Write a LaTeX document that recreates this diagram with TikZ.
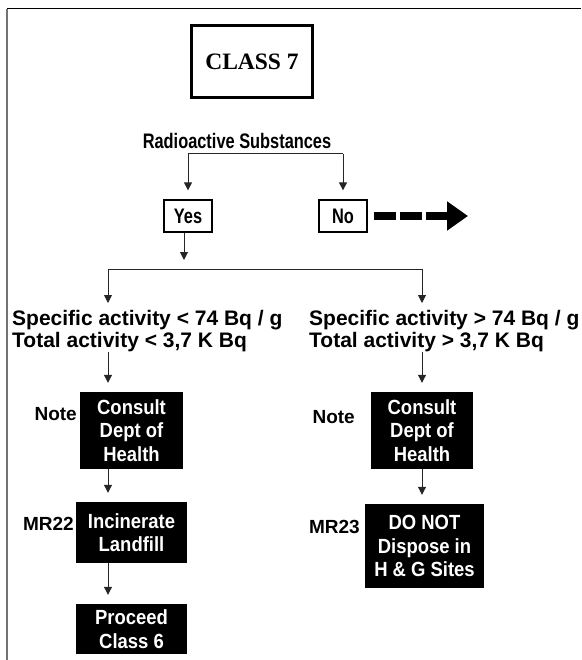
\documentclass[tikz,border=0pt]{standalone}
\usepackage{fontspec}
\setmainfont{Liberation Sans}
\newfontfamily\classfont{Liberation Serif}
\newfontfamily\narrowfont[FakeStretch=0.78]{Liberation Sans}
\newfontfamily\boxfont[FakeStretch=0.9]{Liberation Sans}
\usetikzlibrary{arrows.meta,positioning,calc}

\tikzset{
  line/.style={line width=1pt,black!85},
  arr/.style={line,-{Triangle[length=8pt,width=8pt]},shorten >=9pt},
  blackbox/.style={fill=black,text=white,font=\boxfont\bfseries\fontsize{20.5}{23.5}\selectfont,align=center,inner sep=0pt},
  answer/.style={draw,line width=1.3pt,font=\narrowfont\bfseries\fontsize{21}{24}\selectfont,minimum width=48pt,minimum height=32pt,inner sep=0pt},
  lbl/.style={font=\bfseries\fontsize{19}{22}\selectfont,inner sep=0pt,anchor=east},
  cond/.style={font=\bfseries\fontsize{21}{22}\selectfont,align=left,inner sep=0pt,anchor=north west},
}

\begin{document}
\begin{tikzpicture}[x=1pt,y=-1pt]
		\useasboundingbox (0,0) rectangle (581,660);
		% frame
		\draw[black!55,line width=2pt] (7,9) -- (7,660);
		\draw[line width=1pt] (7,9) -- (581,9);
		% title and question
		\node[draw,line width=3pt,minimum width=121pt,minimum height=72pt,font=\classfont\bfseries\fontsize{23.5}{26}\selectfont] (class) at (252,62) {CLASS 7};
		\node[font=\narrowfont\bfseries\fontsize{21}{24}\selectfont,inner sep=0pt] (rad) at (237,141) {Radioactive Substances};
		\node[answer] (yes) at (188,216) {Yes};
		\node[answer] (no) at (343,216) {No};
		\coordinate (fork) at (0,154);
		\coordinate (nogo) at (468,216);
		\draw[arr] (fork -| no.north) -- (fork -| yes.north) -- (yes.north);
		\draw[arr] (fork -| no.north) -- (no.north);
		\draw[line width=8pt,dash pattern=on 22pt off 4pt,-{Triangle[length=21pt,width=28pt]}] ([xshift=6pt]no.east) -- (nogo);
		% activity split
		\coordinate (lx) at (108,0);
		\coordinate (rx) at (422,0);
		\coordinate (split) at (0,269);
		\draw[arr] ([xshift=-4pt]yes.south) -- ([xshift=-4pt]yes.south |- split);
		\draw[line] (split -| lx) -- (split -| rx);
		\node[cond] (low) at (12,310) {Specific activity < 74 Bq / g\\Total activity < 3,7 K Bq};
		\node[cond] (high) at (309,310) {Specific activity > 74 Bq / g\\Total activity > 3,7 K Bq};
		\draw[arr,shorten >=7pt] (split -| lx) -- (low.north -| lx);
		\draw[arr,shorten >=7pt] (split -| rx) -- (high.north -| rx);
		% actions
		\node[blackbox,minimum width=103pt,minimum height=77pt] (cons1) at (131.5,430.5) {Consult\\Dept of\\Health};
		\node[blackbox,minimum width=111pt,minimum height=61pt] (inc) at (131.5,532.5) {Incinerate\\Landfill};
		\node[blackbox,minimum width=111pt,minimum height=50pt] (proc) at (131.5,629) {Proceed\\Class 6};
		\node[blackbox,minimum width=102pt,minimum height=77pt] (cons2) at (422,430.5) {Consult\\Dept of\\Health};
		\node[blackbox,minimum width=119pt,minimum height=84pt] (donot) at (424.5,546) {DO NOT\\Dispose in\\H \& G Sites};
		\node[lbl] (note1) at (77,414) {Note};
		\node[lbl] (mr22) at (74,524) {MR22};
		\node[lbl] (note2) at (355,417) {Note};
		\node[lbl] (mr23) at (360,527) {MR23};
		\draw[arr] (low.south -| lx) -- (cons1.north -| lx);
		\draw[arr] (high.south -| rx) -- (cons2.north -| rx);
		\draw[arr] (cons1.south -| lx) -- (inc.north -| lx);
		\draw[arr] (inc.south -| lx) -- (proc.north -| lx);
		\draw[arr] (cons2.south -| rx) -- (donot.north -| rx);
	\end{tikzpicture}
\end{document}
